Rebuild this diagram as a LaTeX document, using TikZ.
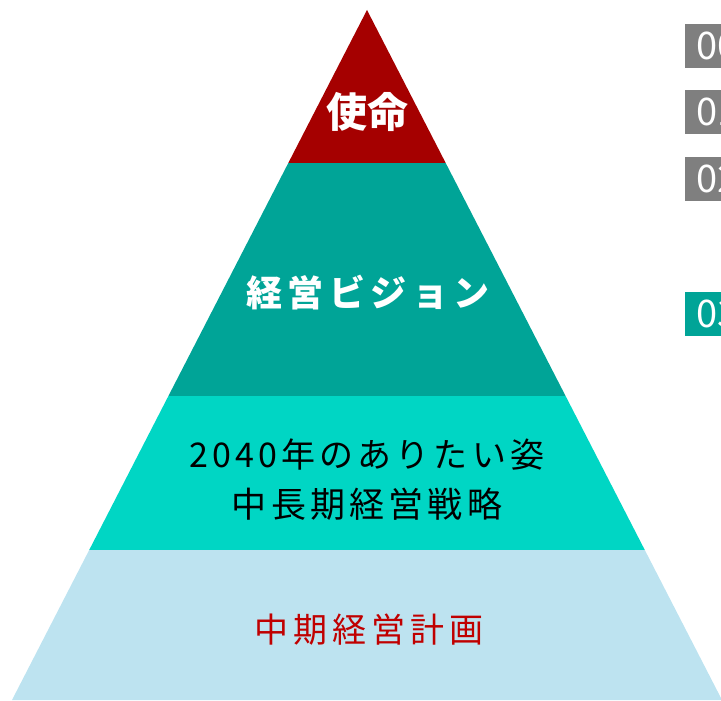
\documentclass[tikz,border=0pt]{standalone}
\usepackage{fontspec}
\usepackage{xcolor}
\usetikzlibrary{positioning, calc}
\setmainfont{Noto Sans CJK JP}
\newfontfamily\jpspaced[LetterSpace=12]{Noto Sans CJK JP}
\newfontfamily\jpwide[LetterSpace=15]{Noto Sans CJK JP}
\definecolor{mission}{RGB}{165,0,0}
\definecolor{vision}{RGB}{0,164,151}
\definecolor{strategy}{RGB}{0,214,196}
\definecolor{plan}{RGB}{189,227,240}
\definecolor{plantext}{RGB}{192,0,0}
\definecolor{boxgray}{RGB}{127,127,127}
\tikzset{
  numbox/.style={fill=#1, text=white, anchor=west, minimum width=60pt, minimum height=44pt, inner xsep=11pt, font=\fontsize{38}{38}\selectfont},
  layertext/.style={align=center, inner sep=0pt}
}

\begin{document}
\begin{tikzpicture}[x=1pt,y=-1pt]
        \useasboundingbox (0,0) rectangle (721,701);
        \clip (0,0) rectangle (721,701);

        \fill[mission] (367,10) -- (445.7,163) -- (288.3,163) -- cycle;
        \fill[vision] (288.3,163) -- (445.7,163) -- (565.6,396) -- (168.4,396) -- cycle;
        \fill[strategy] (168.4,396) -- (565.6,396) -- (644.8,550) -- (89.2,550) -- cycle;
        \fill[plan] (89.2,550) -- (644.8,550) -- (722,700) -- (12,700) -- cycle;

        \node[layertext, text=white, font=\fontsize{41}{41}\bfseries\selectfont] at (367,112) (mission) {使命};
        \node[layertext, text=white, font=\fontsize{36}{36}\bfseries\jpwide] at (368,293) (vision) {経営ビジョン};
        \node[layertext, text=black, font=\fontsize{34}{50}\jpspaced] at (367,480) (strategy) {2040年のありたい姿\\\fontsize{35}{50}\selectfont 中長期経営戦略};
        \node[layertext, text=plantext, font=\fontsize{34}{34}\jpwide] at (369,630) (plan) {中期経営計画};

        \node[numbox=boxgray] at (685,46) (num0) {00};
        \node[numbox=boxgray] at (685,112) (num1) {01};
        \node[numbox=boxgray] at (685,179) (num2) {02};
        \node[numbox=vision] at (685,314) (num3) {03};
    \end{tikzpicture}
\end{document}
